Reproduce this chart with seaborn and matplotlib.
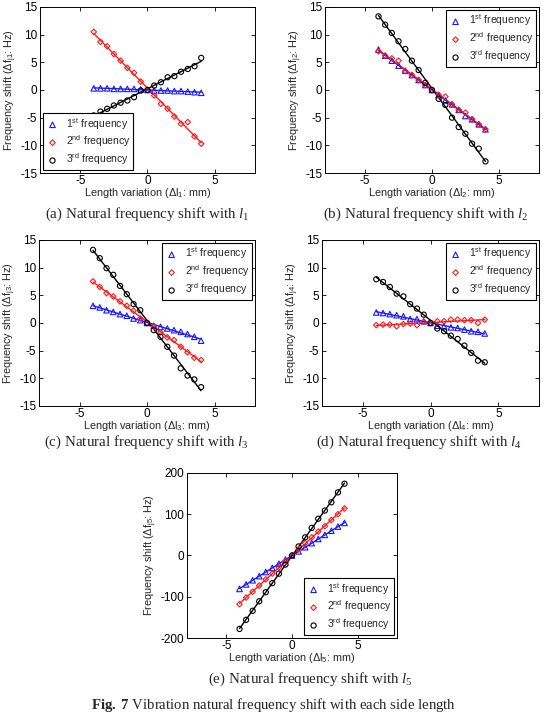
import numpy as np
import pandas as pd
import matplotlib
matplotlib.use("Agg")
import matplotlib.pyplot as plt
import seaborn as sns

sns.set_theme(style="white")
plt.rcParams['font.family'] = ['Liberation Sans', 'DejaVu Sans']
plt.rcParams['axes.unicode_minus'] = False
plt.rcParams['mathtext.fontset'] = 'custom'
plt.rcParams['mathtext.rm'] = 'Liberation Serif'
plt.rcParams['mathtext.it'] = 'Liberation Serif:italic'
plt.rcParams['mathtext.bf'] = 'Liberation Serif:bold'

# ---------------- data ----------------
x_mm = [-4, -3.5, -3, -2.5, -2, -1.5, -1, -0.5, 0, 0.5, 1, 1.5, 2, 2.5, 3, 3.5, 4]

a_f1 = [0.3, 0.3, 0.3, 0.2, 0.2, 0.2, 0.2, 0.1, 0, -0.1, -0.1, -0.1, -0.2, -0.2, -0.3, -0.4, -0.5]
a_f2 = [10.5, 8.7, 7.9, 6.5, 5.3, 4.0, 3.1, 1.5, 0, -1.0, -2.5, -3.4, -4.8, -6.1, -5.8, -8.4, -9.7]
a_f3 = [-4.6, -3.9, -3.4, -2.8, -2.3, -1.9, -1.3, -0.1, 0, 0.8, 1.4, 2.3, 2.5, 3.3, 3.8, 4.3, 5.8]

b_f1 = [7.3, 6.2, 5.3, 4.4, 3.5, 2.7, 1.8, 0.9, 0, -0.9, -1.9, -2.6, -3.6, -4.7, -5.3, -6.2, -7.1]
b_f2 = [7.0, 6.2, 5.7, 5.3, 3.4, 2.7, 1.8, 0.9, 0, -0.9, -1.2, -2.6, -3.6, -4.1, -5.3, -6.2, -7.1]
b_f3 = [13.3, 11.8, 10.3, 8.8, 7.4, 5.3, 3.6, 1.3, 0, -1.6, -2.7, -5.0, -6.7, -7.9, -9.7, -10.6, -12.9]

c_f1 = [3.1, 2.8, 2.3, 2.0, 1.6, 1.3, 0.8, 0.5, 0, -0.5, -0.7, -1.0, -1.3, -1.6, -2.0, -2.5, -3.2]
c_f2 = [7.5, 6.5, 5.4, 4.8, 3.9, 3.1, 2.2, 0.8, 0, -0.7, -1.7, -2.6, -3.1, -4.3, -5.3, -6.3, -6.7]
c_f3 = [13.2, 11.7, 9.9, 8.7, 6.7, 5.2, 3.4, 2.3, 0, -1.3, -2.5, -4.3, -5.9, -8.2, -9.5, -10.2, -11.6]

d_f1 = [1.9, 1.8, 1.6, 1.4, 1.2, 0.7, 0.7, 0.3, 0, -0.5, -0.6, -0.8, -0.9, -1.2, -1.5, -1.6, -1.9]
d_f2 = [-0.4, -0.3, -0.3, -0.6, -0.2, -0.1, -0.4, 0.2, 0, 0.3, 0.3, 0.6, 0.6, 0.5, 0.5, 0.0, 0.6]
d_f3 = [7.9, 7.4, 6.5, 5.3, 4.8, 3.4, 2.6, 1.5, 0, -1.0, -1.5, -2.3, -2.9, -4.1, -5.4, -6.8, -7.1]

e_f1 = [-81, -70, -60, -50, -40, -30, -20, -10, 0, 10, 20, 30, 40, 50, 60, 70, 79]
e_f2 = [-118, -102, -88, -73, -58, -44, -29, -14, 0, 15, 30, 44, 58, 71, 86, 100, 114]
e_f3 = [-178, -156, -134, -111, -89, -67, -44, -22, 0, 22, 44, 67, 89, 109, 129, 153, 174]

series_labels = ["1$\\mathregular{^{st}}$ frequency",
                 "2$\\mathregular{^{nd}}$ frequency",
                 "3$\\mathregular{^{rd}}$ frequency"]
series_colors = ["#1a1aff", "#ff1a1a", "black"]
series_markers = ["^", "D", "o"]
series_sizes = [16, 8, 14]

x_ticks = [-5, 0, 5]
y_ticks_small = [-15, -10, -5, 0, 5, 10, 15]
y_ticks_big = [-200, -100, 0, 100, 200]

captions = ["(a) Natural frequency shift with $l_{\\mathit{1}}$",
            "(b) Natural frequency shift with $l_{\\mathit{2}}$",
            "(c) Natural frequency shift with $l_{\\mathit{3}}$",
            "(d) Natural frequency shift with $l_{\\mathit{4}}$",
            "(e) Natural frequency shift with $l_{\\mathit{5}}$"]
fig_title = "Fig. 7"
fig_title_rest = " Vibration natural frequency shift with each side length"

panels = [
    dict(data=(a_f1, a_f2, a_f3), idx=1, rect=[0.0731, 0.7617, 0.393, 0.2287], leg="lower left",
         yt=y_ticks_small, ylim=(-15, 15), cap=(0.2686, 0.7005)),
    dict(data=(b_f1, b_f2, b_f3), idx=2, rect=[0.5941, 0.7617, 0.3912, 0.2287], leg="upper right",
         yt=y_ticks_small, ylim=(-15, 15), cap=(0.7785, 0.7005)),
    dict(data=(c_f1, c_f2, c_f3), idx=3, rect=[0.0713, 0.4408, 0.395, 0.2287], leg="upper right",
         yt=y_ticks_small, ylim=(-15, 15), cap=(0.268, 0.3855)),
    dict(data=(d_f1, d_f2, d_f3), idx=4, rect=[0.5887, 0.4408, 0.3967, 0.2287], leg="upper right",
         yt=y_ticks_small, ylim=(-15, 15), cap=(0.766, 0.3855)),
    dict(data=(e_f1, e_f2, e_f3), idx=5, rect=[0.3419, 0.1212, 0.3839, 0.2273], leg="lower right",
         yt=y_ticks_big, ylim=(-200, 200), cap=(0.5676, 0.0592)),
]

fig = plt.figure(figsize=(5.47, 7.26), dpi=100)
fig.patch.set_facecolor("white")

for p in panels:
    ax = fig.add_axes(p["rect"])
    handles = []
    for vals, lab, col, mk, sz in zip(p["data"], series_labels, series_colors, series_markers, series_sizes):
        df = pd.DataFrame({"x": x_mm, "y": vals})
        sns.regplot(data=df, x="x", y="y", ax=ax, scatter=False, ci=None,
                    line_kws=dict(color=col, lw=1.0), truncate=True)
        sc = ax.scatter(df["x"], df["y"], marker=mk, s=sz, facecolors="none",
                        edgecolors=col, linewidths=0.8, label=lab, zorder=3)
        handles.append(sc)
    ax.set_xlim(-8, 8)
    ax.set_ylim(*p["ylim"])
    ax.set_xticks(x_ticks)
    ax.set_yticks(p["yt"])
    ax.tick_params(direction="in", length=3, width=0.6, labelsize=8.5, top=True, right=True,
                   bottom=True, left=True, pad=2, colors="black")
    ax.tick_params(axis="x", pad=1.5)
    for s in ax.spines.values():
        s.set_color("black")
        s.set_linewidth(0.7)
    i = p["idx"]
    ax.set_xlabel("Length variation (Δl$\\mathregular{_{%d}}$: mm)" % i, fontsize=7.8, labelpad=-1)
    ax.set_ylabel("Frequency shift (Δf$\\mathregular{_{j%d}}$: Hz)" % i, fontsize=7.8, labelpad=1)
    leg = ax.legend(handles=handles, loc=p["leg"], fontsize=7.5, frameon=True, fancybox=False,
                    edgecolor="black", framealpha=1, borderaxespad=0.25, handlelength=1.3,
                    handletextpad=0.6, labelspacing=0.2, borderpad=0.3)
    leg.get_frame().set_linewidth(0.8)
    fig.text(p["cap"][0], p["cap"][1], captions[i - 1], ha="center", va="baseline",
             fontsize=10.8, family="Liberation Serif")

fig.text(0.5, 0.0234, "$\\mathbf{Fig.\\ 7}$" + fig_title_rest, ha="center", va="baseline",
         fontsize=10.6, family="Liberation Serif")

fig.savefig("out.png", dpi=100, facecolor="white")
